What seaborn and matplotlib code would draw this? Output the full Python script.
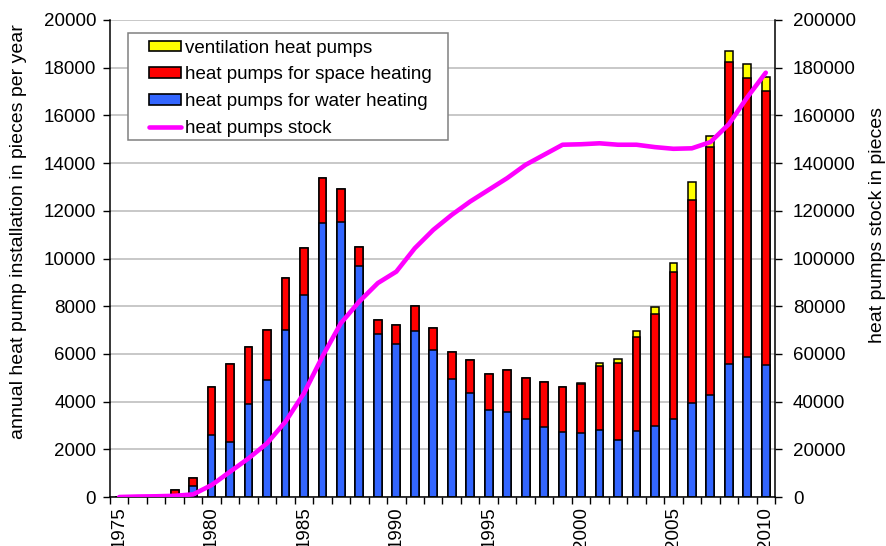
import matplotlib
matplotlib.use('Agg')
import matplotlib.pyplot as plt
import seaborn as sns
import numpy as np
from matplotlib.patches import Patch, Rectangle
from matplotlib.lines import Line2D
from matplotlib.ticker import FixedLocator

years = list(range(1975, 2011))

water = [0, 0, 0, 50, 450, 2620, 2310, 3910, 4920, 7020, 8450, 11470,
         11510, 9700, 6840, 6430, 6950, 6160, 4960, 4370, 3630, 3570, 3290,
         2950, 2710, 2670, 2810, 2410, 2760, 2970, 3260, 3950, 4260, 5590,
         5870, 5520]
space = [0, 0, 0, 250, 360, 1990, 3280, 2390, 2080, 2170, 1970, 1910,
         1400, 790, 580, 780, 1050, 930, 1130, 1390, 1510, 1740, 1680,
         1870, 1920, 2050, 2680, 3220, 3950, 4720, 6190, 8500, 10430, 12640,
         11700, 11520]
ventilation = [0, 0, 0, 0, 0, 0, 0, 0, 0, 0, 0, 0,
               0, 0, 0, 0, 0, 0, 0, 0, 0, 0, 0,
               0, 0, 80, 110, 170, 250, 290, 350, 760, 460, 460,
               600, 550]
stock = [0, 200, 300, 500, 1100, 5000, 10600, 16200, 22500, 31600, 43500,
         58900, 72900, 82000, 89700, 94500, 104300, 112000, 118300, 123900,
         128800, 133700, 139300, 143500, 147700, 147900, 148300, 147700,
         147700, 146700, 146000, 146200, 148800, 156300, 167600, 177900]

labels = ['ventilation heat pumps', 'heat pumps for space heating',
          'heat pumps for water heating', 'heat pumps stock']
c_blue = '#3366FF'
c_red = '#FF0000'
c_yellow = '#FFFF00'
c_mag = '#FF00FF'

sns.set_theme(style='white')
plt.rcParams['font.family'] = ['Liberation Sans', 'DejaVu Sans']
plt.rcParams['text.color'] = 'black'

# stacked bars: draw cumulative heights on top of each other
water_a = np.array(water)
red_top = water_a + np.array(space)
total = red_top + np.array(ventilation)

fig = plt.figure(figsize=(8.87, 5.46), dpi=100)
ax = fig.add_axes([110 / 887, 49 / 546, 665 / 887, 477 / 546])

common = dict(native_scale=True, width=0.42, saturation=1, edgecolor='black',
              linewidth=1.1, errorbar=None, ax=ax)
sns.barplot(x=years, y=total, color=c_yellow, **common)
sns.barplot(x=years, y=red_top, color=c_red, **common)
sns.barplot(x=years, y=water_a, color=c_blue, **common)

ax.set_xlim(years[0] - 0.5, years[-1] + 0.5)
ax.set_ylim(0, 20000)
ax.set_yticks(range(0, 20001, 2000))
ax.yaxis.grid(True, color='#BFBFBF', linewidth=1.2)
ax.xaxis.grid(False)
ax.set_axisbelow(True)

ax.set_xticks([y for y in years if y % 5 == 0])
ax.set_xticklabels([str(y) for y in years if y % 5 == 0], rotation=90)
ax.xaxis.set_minor_locator(FixedLocator([y - 0.5 for y in years] + [years[-1] + 0.5]))
ax.tick_params(axis='x', which='major', length=0, pad=7, labelsize=13.5,
               colors='black')
ax.tick_params(axis='x', which='minor', bottom=True, length=5, width=1,
               color='black', direction='out')
ax.tick_params(axis='y', left=True, length=5, width=1, direction='out',
               pad=5, labelsize=13.5, colors='black')

for s in ['top', 'right']:
    ax.spines[s].set_visible(False)
for s in ['left', 'bottom']:
    ax.spines[s].set_color('black')
    ax.spines[s].set_linewidth(1.1)

ax.set_ylabel('annual heat pump installation in pieces per year',
              fontsize=14, color='black')
ax.yaxis.set_label_coords(-0.125, 0.556)
ax.set_xlabel('')

ax2 = ax.twinx()
sns.lineplot(x=years, y=stock, color=c_mag, linewidth=3.3, ax=ax2)
ax2.set_ylim(0, 200000)
ax2.set_yticks(range(0, 200001, 20000))
ax2.tick_params(axis='y', right=True, length=5, width=1, direction='out',
                pad=8, labelsize=13.5, colors='black')
for s in ['top', 'left', 'bottom']:
    ax2.spines[s].set_visible(False)
ax2.spines['right'].set_visible(True)
ax2.spines['right'].set_color('black')
ax2.spines['right'].set_linewidth(1.1)
ax2.grid(False)
ax2.set_ylabel('heat pumps stock in pieces', fontsize=14, color='black')
ax2.yaxis.set_label_coords(1.141, 0.57)

# legend box (Excel style: wide side padding)
box = Rectangle((128 / 887, 1 - 140 / 546), 320 / 887, 107 / 546,
                transform=fig.transFigure, facecolor='white',
                edgecolor='#808080', linewidth=1.1, zorder=4.5)
ax2.add_artist(box)

handles = [Patch(facecolor=c_yellow, edgecolor='black', linewidth=1.2),
           Patch(facecolor=c_red, edgecolor='black', linewidth=1.2),
           Patch(facecolor=c_blue, edgecolor='black', linewidth=1.2),
           Line2D([0], [0], color=c_mag, linewidth=3.3)]
leg = ax2.legend(handles, labels, loc='upper left',
                 bbox_to_anchor=(143 / 887, 1 - 34 / 546),
                 bbox_transform=fig.transFigure, fontsize=13.5,
                 frameon=False, borderpad=0.3, labelspacing=0.52,
                 handlelength=1.75, handleheight=0.5, handletextpad=0.2,
                 borderaxespad=0)
leg.set_zorder(5)

fig.savefig('out.png', dpi=100)
